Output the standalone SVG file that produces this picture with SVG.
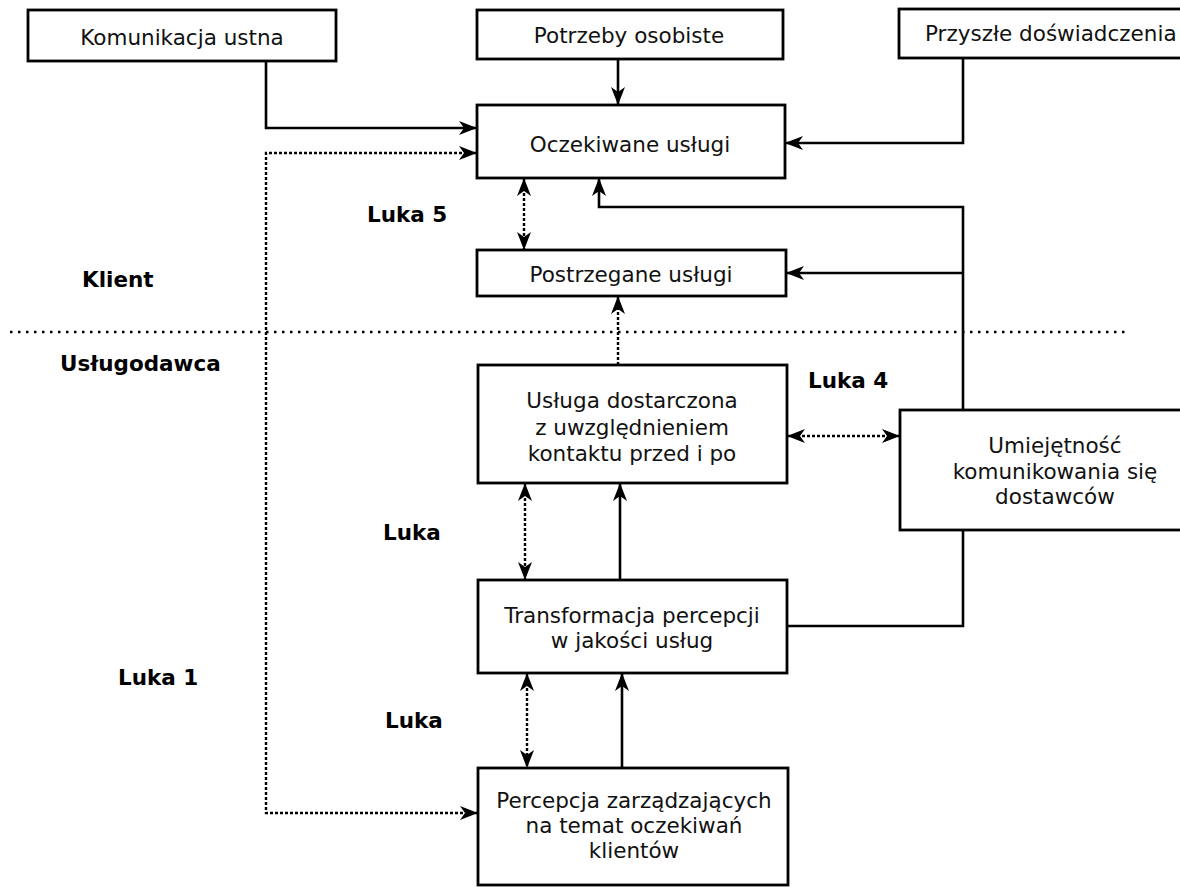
<svg xmlns="http://www.w3.org/2000/svg" width="1180" height="887" viewBox="0 0 1180 887">
<style>
.box{fill:#fff;stroke:#000;stroke-width:2.8}
.t{font-family:"DejaVu Sans","Liberation Sans",sans-serif;font-size:21.5px;fill:#111;text-anchor:middle}
.lbl{font-family:"DejaVu Sans","Liberation Sans",sans-serif;font-size:21.5px;font-weight:bold;fill:#000}
.c{fill:none;stroke:#000;stroke-width:2.6}
.d{fill:none;stroke:#000;stroke-width:2.4;stroke-dasharray:3 2}
.sep{fill:none;stroke:#000;stroke-width:2.6;stroke-dasharray:2.5 5.5}
</style>
<defs>
<marker id="ah" viewBox="0 0 18 14" refX="18" refY="7" markerWidth="18" markerHeight="14" markerUnits="userSpaceOnUse" orient="auto-start-reverse">
<path d="M0,0 L18,7 L0,14 L5,7 z" fill="#000"/>
</marker>
</defs>
<rect width="1180" height="887" fill="#fff"/>

<g id="labels">
<text class="lbl" x="367" y="222">Luka 5</text>
<text class="lbl" x="82" y="287">Klient</text>
<text class="lbl" x="60" y="371">Usługodawca</text>
<text class="lbl" x="808" y="388">Luka 4</text>
<text class="lbl" x="383" y="540">Luka</text>
<text class="lbl" x="385" y="728">Luka</text>
<text class="lbl" x="118" y="685">Luka 1</text>
</g>

<g id="connectors">
<path class="sep" d="M10,332 H1127"/>
<path class="c" d="M266,61 V128 H477" marker-end="url(#ah)"/>
<path class="c" d="M618,59 V105" marker-end="url(#ah)"/>
<path class="c" d="M963,58 V143 H785" marker-end="url(#ah)"/>
<path class="c" d="M963,410 V207 H599 V178" marker-end="url(#ah)"/>
<path class="c" d="M963,273 H786" marker-end="url(#ah)"/>
<path class="d" d="M477,153 H266 V813 H478" marker-start="url(#ah)" marker-end="url(#ah)"/>
<path class="d" d="M524,178 V250" marker-start="url(#ah)" marker-end="url(#ah)"/>
<path class="d" d="M618,365 V296" marker-end="url(#ah)"/>
<path class="d" d="M787,436 H900" marker-start="url(#ah)" marker-end="url(#ah)"/>
<path class="c" d="M963,530 V626 H787"/>
<path class="d" d="M525,483 V580" marker-start="url(#ah)" marker-end="url(#ah)"/>
<path class="c" d="M620,580 V483" marker-end="url(#ah)"/>
<path class="d" d="M527,673 V768" marker-start="url(#ah)" marker-end="url(#ah)"/>
<path class="c" d="M622,768 V673" marker-end="url(#ah)"/>
</g>

<g id="n1"><rect class="box" x="28" y="10" width="308" height="51"/><text class="t" x="182" y="45">Komunikacja ustna</text></g>
<g id="n2"><rect class="box" x="477" y="10" width="306" height="49"/><text class="t" x="629" y="43">Potrzeby osobiste</text></g>
<g id="n3"><rect class="box" x="899" y="9" width="300" height="49"/><text class="t" x="925" y="41" style="text-anchor:start">Przyszłe doświadczenia</text></g>
<g id="n4"><rect class="box" x="477" y="105" width="308" height="73"/><text class="t" x="630" y="152">Oczekiwane usługi</text></g>
<g id="n5"><rect class="box" x="477" y="250" width="309" height="46"/><text class="t" x="631" y="282">Postrzegane usługi</text></g>
<g id="n6"><rect class="box" x="478" y="365" width="309" height="118"/>
<text class="t" x="632" y="408">Usługa dostarczona</text>
<text class="t" x="632" y="434.5">z uwzględnieniem</text>
<text class="t" x="632" y="461">kontaktu przed i po</text></g>
<g id="n7"><rect class="box" x="900" y="410" width="310" height="120"/>
<text class="t" x="1055" y="453">Umiejętność</text>
<text class="t" x="1055" y="478.5">komunikowania się</text>
<text class="t" x="1055" y="504">dostawców</text></g>
<g id="n8"><rect class="box" x="478" y="580" width="309" height="93"/>
<text class="t" x="632" y="623">Transformacja percepcji</text>
<text class="t" x="632" y="648">w jakości usług</text></g>
<g id="n9"><rect class="box" x="478" y="768" width="310" height="117"/>
<text class="t" x="634" y="808">Percepcja zarządzających</text>
<text class="t" x="634" y="833">na temat oczekiwań</text>
<text class="t" x="634" y="858">klientów</text></g>
</svg>
